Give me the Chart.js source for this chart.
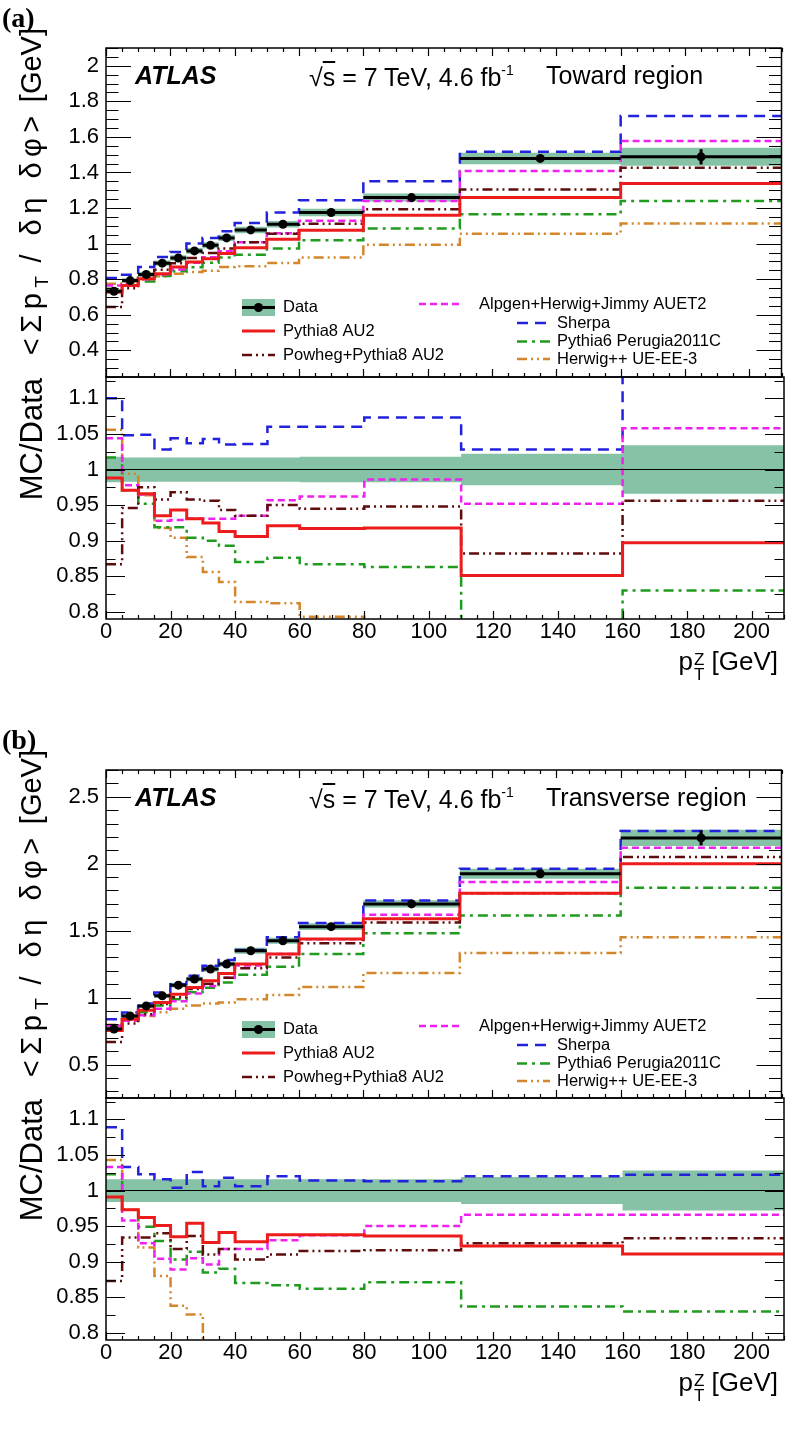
<!DOCTYPE html>
<html>
<head>
<meta charset="utf-8">
<title>Sum pT density vs pT(Z)</title>
<script src="https://cdn.jsdelivr.net/npm/chart.js@4.4.1/dist/chart.umd.min.js"></script>
<style>
  body { margin: 0; background: #fff; }
  #page { position: relative; width: 786px; height: 1430px; overflow: hidden; font-family: "Liberation Sans", Arial, sans-serif; color: #000; }
  #page canvas { position: absolute; left: 0; }
  .txt { position: absolute; white-space: nowrap; line-height: 1; }
  .tag { font-family: "Liberation Serif", serif; font-weight: bold; font-size: 28px; }
  .atlas { font-weight: bold; font-style: italic; font-size: 25px; }
  .info { font-size: 25px; }
  .info sup { font-size: 14px; vertical-align: 11px; }
  .ytitle { font-size: 29px; height: 30px; transform-origin: 0 0; transform: rotate(-90deg); text-align: right; }
  .ytitle .gr { letter-spacing: 5.5px; }
  .ytitle sub { font-size: 19px; vertical-align: -7px; letter-spacing: 0; }
  .ytitle.r { font-size: 31px; height: 32px; }
  .xtitle { font-size: 26px; text-align: right; width: 200px; }
  .ss { display: inline-block; font-size: 17px; line-height: 15px; vertical-align: -10px; text-align: left; margin-left: 1px; }
</style>
</head>
<body>
<div id="page">
  <canvas id="towardMain" width="786" height="401" style="top:0px"></canvas>
  <canvas id="towardRatio" width="786" height="321" style="top:353px"></canvas>
  <canvas id="transMain" width="786" height="402" style="top:720px"></canvas>
  <canvas id="transRatio" width="786" height="321" style="top:1074px"></canvas>

  <div class="txt tag" style="left:2px; top:4px">(a)</div>
  <div class="txt atlas" style="left:135px; top:63px">ATLAS</div>
  <div class="txt info" style="left:309px; top:63px">√<span style="text-decoration:overline">s</span> = 7 TeV, 4.6 fb<sup>-1</sup></div>
  <div class="txt info" style="left:546px; top:63px">Toward region</div>
  <div class="txt ytitle" style="left:17px; top:360px; width:332px"><span class="gr">&lt;Σp<sub>T</sub> / δη δφ&gt;</span> [GeV]</div>
  <div class="txt ytitle r" style="left:16px; top:529px; width:151px">MC/Data</div>
  <div class="txt xtitle" style="left:578px; top:648px">p<span class="ss">Z<br>T</span> [GeV]</div>

  <div class="txt tag" style="left:2px; top:726px">(b)</div>
  <div class="txt atlas" style="left:135px; top:785px">ATLAS</div>
  <div class="txt info" style="left:309px; top:785px">√<span style="text-decoration:overline">s</span> = 7 TeV, 4.6 fb<sup>-1</sup></div>
  <div class="txt info" style="left:546px; top:785px">Transverse region</div>
  <div class="txt ytitle" style="left:17px; top:1082px; width:332px"><span class="gr">&lt;Σp<sub>T</sub> / δη δφ&gt;</span> [GeV]</div>
  <div class="txt ytitle r" style="left:16px; top:1250px; width:151px">MC/Data</div>
  <div class="txt xtitle" style="left:578px; top:1369px">p<span class="ss">Z<br>T</span> [GeV]</div>
</div>

<script>
// bin edges in pT(Z) [GeV]
const edges = [0, 5, 10, 15, 20, 25, 30, 35, 40, 50, 60, 80, 110, 160, 210];

// tick labels
const xTickValues = [0, 20, 40, 60, 80, 100, 120, 140, 160, 180, 200];
const towardTicks = [0.4, 0.6, 0.8, 1, 1.2, 1.4, 1.6, 1.8, 2];
const transTicks = [0.5, 1, 1.5, 2, 2.5];
const ratioTicks = [0.8, 0.85, 0.9, 0.95, 1, 1.05, 1.1];

// axis ranges
const xRange = [0, 210];
const towardRange = [0.25, 2.1];
const transRange = [0.25, 2.7];
const ratioRange = [0.79, 1.13];

// ---- (a) toward region ----
const towardData = [0.732, 0.792, 0.827, 0.890, 0.919, 0.959, 0.991, 1.032, 1.077, 1.109, 1.175, 1.259, 1.479, 1.488];
const towardStat = [0.004, 0.004, 0.004, 0.005, 0.005, 0.006, 0.006, 0.007, 0.007, 0.008, 0.009, 0.010, 0.020, 0.043];
const towardSys = [0.018, 0.017, 0.017, 0.017, 0.017, 0.017, 0.017, 0.017, 0.017, 0.017, 0.018, 0.018, 0.022, 0.034];

const towardPythia8 = [0.728, 0.765, 0.803, 0.831, 0.869, 0.897, 0.915, 0.944, 0.977, 1.024, 1.075, 1.160, 1.259, 1.338];
const towardPowheg = [0.643, 0.749, 0.808, 0.853, 0.890, 0.919, 0.947, 0.973, 1.008, 1.055, 1.112, 1.193, 1.304, 1.426];
const towardAlpgen = [0.765, 0.775, 0.800, 0.826, 0.854, 0.893, 0.923, 0.957, 1.008, 1.058, 1.129, 1.240, 1.408, 1.577];
const towardSherpa = [0.807, 0.825, 0.869, 0.925, 0.953, 1.000, 1.032, 1.069, 1.116, 1.175, 1.244, 1.351, 1.516, 1.717];
const towardPythia6 = [0.746, 0.769, 0.787, 0.818, 0.845, 0.867, 0.892, 0.922, 0.938, 0.972, 1.019, 1.085, 1.165, 1.240];
const towardHerwig = [0.774, 0.787, 0.797, 0.817, 0.831, 0.841, 0.848, 0.869, 0.873, 0.891, 0.922, 0.994, 1.056, 1.113];

const towardRatioPythia8 = [0.988, 0.971, 0.966, 0.935, 0.943, 0.931, 0.925, 0.913, 0.906, 0.921, 0.917, 0.918, 0.851, 0.897];
const towardRatioPowheg = [0.867, 0.946, 0.975, 0.958, 0.968, 0.958, 0.956, 0.943, 0.935, 0.950, 0.945, 0.948, 0.882, 0.956];
const towardRatioAlpgen = [1.044, 0.978, 0.965, 0.928, 0.929, 0.931, 0.931, 0.931, 0.935, 0.957, 0.962, 0.986, 0.952, 1.058];
const towardRatioSherpa = [1.100, 1.048, 1.049, 1.028, 1.044, 1.037, 1.043, 1.035, 1.036, 1.060, 1.060, 1.073, 1.028, 1.154];
const towardRatioPythia6 = [1.017, 0.971, 0.952, 0.919, 0.919, 0.904, 0.900, 0.893, 0.870, 0.876, 0.867, 0.863, 0.788, 0.830];
const towardRatioHerwig = [1.056, 0.994, 0.964, 0.918, 0.904, 0.877, 0.856, 0.842, 0.814, 0.812, 0.793, 0.785, 0.714, 0.748];

// ---- (b) transverse region ----
const transData = [0.765, 0.863, 0.938, 1.013, 1.093, 1.138, 1.213, 1.250, 1.350, 1.425, 1.530, 1.700, 1.925, 2.193];
const transStat = [0.004, 0.004, 0.005, 0.005, 0.006, 0.006, 0.007, 0.008, 0.008, 0.009, 0.010, 0.012, 0.020, 0.056];
const transSys = [0.016, 0.016, 0.016, 0.016, 0.016, 0.016, 0.016, 0.016, 0.016, 0.016, 0.016, 0.016, 0.019, 0.028];

const transPythia8 = [0.755, 0.838, 0.905, 0.963, 1.025, 1.075, 1.125, 1.180, 1.250, 1.325, 1.438, 1.588, 1.780, 2.000];
const transPowheg = [0.668, 0.806, 0.876, 0.952, 1.003, 1.065, 1.104, 1.148, 1.219, 1.300, 1.405, 1.560, 1.780, 2.050];
const transAlpgen = [0.790, 0.827, 0.869, 0.916, 0.972, 1.030, 1.087, 1.148, 1.239, 1.325, 1.436, 1.618, 1.863, 2.120];
const transSherpa = [0.838, 0.888, 0.955, 1.038, 1.100, 1.163, 1.238, 1.280, 1.355, 1.450, 1.558, 1.725, 1.963, 2.245];
const transPythia6 = [0.783, 0.840, 0.890, 0.941, 0.987, 1.040, 1.074, 1.113, 1.170, 1.230, 1.325, 1.480, 1.613, 1.820];
const transHerwig = [0.798, 0.840, 0.863, 0.891, 0.916, 0.940, 0.955, 0.963, 0.988, 1.020, 1.080, 1.183, 1.333, 1.450];

const transRatioPythia8 = [0.991, 0.973, 0.962, 0.951, 0.935, 0.954, 0.927, 0.941, 0.928, 0.938, 0.938, 0.936, 0.922, 0.911];
const transRatioPowheg = [0.873, 0.934, 0.934, 0.940, 0.918, 0.936, 0.910, 0.918, 0.903, 0.910, 0.915, 0.916, 0.926, 0.933];
const transRatioAlpgen = [1.033, 0.958, 0.926, 0.904, 0.889, 0.905, 0.896, 0.918, 0.918, 0.930, 0.937, 0.950, 0.966, 0.966];
const transRatioSherpa = [1.089, 1.033, 1.023, 1.016, 1.004, 1.026, 1.006, 1.018, 1.006, 1.020, 1.014, 1.013, 1.020, 1.022];
const transRatioPythia6 = [1.023, 0.973, 0.949, 0.929, 0.903, 0.914, 0.885, 0.890, 0.870, 0.867, 0.862, 0.871, 0.837, 0.830];
const transRatioHerwig = [1.043, 0.973, 0.920, 0.880, 0.838, 0.826, 0.787, 0.770, 0.732, 0.716, 0.706, 0.696, 0.693, 0.661];

const bandColor = '#86c2a5';
const FONT = '"Liberation Sans", Arial, sans-serif';

// MC generators, in legend order
const models = [
  { key: 'p8', label: 'Pythia8 AU2', color: '#ec1c1c', dash: [], width: 3 },
  { key: 'pow', label: 'Powheg+Pythia8 AU2', color: '#5e0c0c', dash: [10, 4, 2, 4, 2, 4], width: 2.5 },
  { key: 'alp', label: 'Alpgen+Herwig+Jimmy AUET2', color: '#ee22ee', dash: [7, 4], width: 2.5 },
  { key: 'she', label: 'Sherpa', color: '#2222dd', dash: [11, 7], width: 2.5 },
  { key: 'p6', label: 'Pythia6 Perugia2011C', color: '#1f9c1f', dash: [10, 5, 3, 5], width: 2.5 },
  { key: 'hw', label: 'Herwig++ UE-EE-3', color: '#d4862c', dash: [10, 4, 2, 4, 2, 4], width: 2.5 }
];

const towardMC = { p8: towardPythia8, pow: towardPowheg, alp: towardAlpgen, she: towardSherpa, p6: towardPythia6, hw: towardHerwig };
const towardRatioMC = { p8: towardRatioPythia8, pow: towardRatioPowheg, alp: towardRatioAlpgen, she: towardRatioSherpa, p6: towardRatioPythia6, hw: towardRatioHerwig };
const transMC = { p8: transPythia8, pow: transPowheg, alp: transAlpgen, she: transSherpa, p6: transPythia6, hw: transHerwig };
const transRatioMC = { p8: transRatioPythia8, pow: transRatioPowheg, alp: transRatioAlpgen, she: transRatioSherpa, p6: transRatioPythia6, hw: transRatioHerwig };

// legend slots (pixels: x on canvas, dy below top of plot area)
const legendSlots = [
  { key: 'data', label: 'Data', x0: 242, x1: 275, tx: 283, dy: 259.5 },
  { key: 'p8', x0: 242, x1: 275, tx: 283, dy: 283 },
  { key: 'pow', x0: 242, x1: 275, tx: 283, dy: 307 },
  { key: 'alp', x0: 419, x1: 463, tx: 479, dy: 256 },
  { key: 'she', x0: 517, x1: 550, tx: 557, dy: 275 },
  { key: 'p6', x0: 517, x1: 550, tx: 557, dy: 293.5 },
  { key: 'hw', x0: 517, x1: 550, tx: 557, dy: 311 }
];

// histogram outline: a point at every low edge plus the last high edge
function histPoints(vals) {
  const pts = vals.map((v, i) => ({ x: edges[i], y: v }));
  pts.push({ x: edges[edges.length - 1], y: vals[vals.length - 1] });
  return pts;
}

// data: one horizontal bar per bin, no risers
function binSegments(vals) {
  const pts = [];
  vals.forEach((v, i) => {
    pts.push({ x: edges[i], y: v }, { x: edges[i + 1], y: v }, { x: edges[i + 1], y: null });
  });
  return pts;
}

function mcDatasets(mc) {
  return models.map((m, k) => ({
    data: histPoints(mc[m.key]),
    borderColor: m.color,
    borderDash: m.dash,
    borderWidth: m.width,
    stepped: true,
    pointRadius: 0,
    clip: 0,
    order: 2 + k
  }));
}

function bandDatasets(lo, hi) {
  return [
    { data: histPoints(hi), borderWidth: 0, pointRadius: 0, stepped: true, clip: 0, order: 20 },
    { data: histPoints(lo), borderWidth: 0, pointRadius: 0, stepped: true, clip: 0, order: 20,
      fill: '-1', backgroundColor: bandColor }
  ];
}

function mainDatasets(vals, stat, sys, mc) {
  const hi = vals.map((v, i) => v * (1 + sys[i]));
  const lo = vals.map((v, i) => v * (1 - sys[i]));
  return [
    { data: binSegments(vals), borderColor: '#000', borderWidth: 3, pointRadius: 0, spanGaps: false, clip: 0, order: 0 },
    { data: vals.map((v, i) => ({ x: (edges[i] + edges[i + 1]) / 2, y: v })), showLine: false,
      pointRadius: 4.5, pointBackgroundColor: '#000', pointBorderWidth: 0, errBars: stat, order: 0 },
    ...mcDatasets(mc),
    ...bandDatasets(lo, hi)
  ];
}

function ratioDatasets(sys, mc) {
  return [
    { data: [{ x: xRange[0], y: 1 }, { x: xRange[1], y: 1 }], borderColor: '#000', borderWidth: 1,
      pointRadius: 0, clip: 0, order: 1 },
    ...mcDatasets(mc),
    ...bandDatasets(sys.map(s => 1 - s), sys.map(s => 1 + s))
  ];
}

// ROOT style frame with inward ticks on all sides
const rootFrame = {
  id: 'rootFrame',
  afterDraw(chart, args, o) {
    const { ctx, chartArea: a, scales: { x, y } } = chart;
    ctx.save();
    ctx.strokeStyle = '#000';
    ctx.setLineDash([]);
    ctx.lineWidth = 1.2;
    ctx.beginPath();
    const per = Math.round(o.yMajor / o.yMinor);
    for (let k = Math.ceil(y.min / o.yMinor - 1e-6); k * o.yMinor <= y.max + 1e-9; k++) {
      const py = Math.round(y.getPixelForValue(k * o.yMinor)) + 0.5;
      const len = (k % per === 0) ? o.yLen : o.yLen / 2;
      ctx.moveTo(a.left, py); ctx.lineTo(a.left + len, py);
      ctx.moveTo(a.right, py); ctx.lineTo(a.right - len, py);
    }
    for (let k = 0; k * 5 <= x.max; k++) {
      const px = Math.round(x.getPixelForValue(k * 5)) + 0.5;
      const len = (k % 4 === 0) ? 8 : 4;
      if (o.xTop) { ctx.moveTo(px, a.top); ctx.lineTo(px, a.top + len); }
      if (o.xBottom) { ctx.moveTo(px, a.bottom); ctx.lineTo(px, a.bottom - len); }
    }
    ctx.stroke();
    ctx.lineWidth = 1.5;
    ctx.strokeRect(a.left, a.top, a.right - a.left, a.bottom - a.top);
    ctx.restore();
  }
};

// vertical stat error bars on the data points
const errorBars = {
  id: 'errorBars',
  afterDatasetsDraw(chart) {
    const { ctx, scales: { x, y } } = chart;
    chart.data.datasets.forEach(ds => {
      if (!ds.errBars) return;
      ctx.save();
      ctx.strokeStyle = '#000';
      ctx.lineWidth = 3;
      ds.data.forEach((p, i) => {
        const px = x.getPixelForValue(p.x);
        ctx.beginPath();
        ctx.moveTo(px, y.getPixelForValue(p.y - ds.errBars[i]));
        ctx.lineTo(px, y.getPixelForValue(p.y + ds.errBars[i]));
        ctx.stroke();
      });
      ctx.restore();
    });
  }
};

// two column legend like the ROOT TLegend
const rootLegend = {
  id: 'rootLegend',
  afterDraw(chart, args, o) {
    if (!o.show) return;
    const { ctx, chartArea: a } = chart;
    ctx.save();
    ctx.font = '16.5px ' + FONT;
    ctx.textBaseline = 'middle';
    legendSlots.forEach(s => {
      const y = a.top + s.dy;
      const m = models.find(mm => mm.key === s.key);
      if (s.key === 'data') {
        ctx.fillStyle = bandColor;
        ctx.fillRect(s.x0, y - 8.5, s.x1 - s.x0, 17);
        ctx.strokeStyle = '#000';
        ctx.lineWidth = 3;
        ctx.setLineDash([]);
        ctx.beginPath(); ctx.moveTo(s.x0, y); ctx.lineTo(s.x1, y); ctx.stroke();
        ctx.fillStyle = '#000';
        ctx.beginPath(); ctx.arc((s.x0 + s.x1) / 2, y, 4.5, 0, 2 * Math.PI); ctx.fill();
      } else {
        ctx.strokeStyle = m.color;
        ctx.lineWidth = m.width;
        ctx.setLineDash(m.dash);
        ctx.beginPath(); ctx.moveTo(s.x0, y); ctx.lineTo(s.x1, y); ctx.stroke();
      }
      ctx.fillStyle = '#000';
      ctx.fillText(s.label || m.label, s.tx, y);
    });
    ctx.restore();
  }
};

Chart.defaults.font.family = FONT;
Chart.defaults.color = '#000';

function makeChart(id, cfg) {
  const tickFont = { size: 22, family: FONT };
  return new Chart(document.getElementById(id), {
    type: 'line',
    data: { datasets: cfg.datasets },
    options: {
      responsive: false,
      animation: false,
      events: [],
      layout: { padding: cfg.padding },
      scales: {
        x: {
          type: 'linear', min: xRange[0], max: xRange[1], bounds: 'data',
          display: cfg.showX,
          afterBuildTicks: s => { s.ticks = xTickValues.map(v => ({ value: v })); },
          afterFit: s => { if (cfg.showX) s.height = 55; },
          ticks: { autoSkip: false, maxRotation: 0, font: tickFont, color: '#000', padding: 0,
                   callback: v => String(v) },
          grid: { display: false, drawTicks: false },
          border: { display: false }
        },
        y: {
          type: 'linear', min: cfg.range[0], max: cfg.range[1], bounds: 'data',
          afterBuildTicks: s => { s.ticks = cfg.ticks.map(v => ({ value: v })); },
          afterFit: s => { s.width = 106; },
          ticks: { autoSkip: false, font: tickFont, color: '#000', padding: 7,
                   callback: v => String(v) },
          grid: { display: false, drawTicks: false },
          border: { display: false }
        }
      },
      plugins: {
        legend: { display: false },
        tooltip: { enabled: false },
        rootFrame: cfg.frame,
        rootLegend: { show: !!cfg.legend }
      }
    },
    plugins: [rootFrame, errorBars, rootLegend]
  });
}

makeChart('towardMain', {
  datasets: mainDatasets(towardData, towardStat, towardSys, towardMC),
  range: towardRange, ticks: towardTicks, showX: false, legend: true,
  padding: { top: 48, bottom: 24, left: 0, right: 2 },
  frame: { yMajor: 0.2, yMinor: 0.05, yLen: 25, xTop: true, xBottom: true }
});

makeChart('towardRatio', {
  datasets: ratioDatasets(towardSys, towardRatioMC),
  range: ratioRange, ticks: ratioTicks, showX: true,
  padding: { top: 24, bottom: 0, left: 0, right: 2 },
  frame: { yMajor: 0.05, yMinor: 0.025, yLen: 19, xTop: false, xBottom: true }
});

makeChart('transMain', {
  datasets: mainDatasets(transData, transStat, transSys, transMC),
  range: transRange, ticks: transTicks, showX: false, legend: true,
  padding: { top: 50, bottom: 24, left: 0, right: 2 },
  frame: { yMajor: 0.5, yMinor: 0.1, yLen: 25, xTop: true, xBottom: true }
});

makeChart('transRatio', {
  datasets: ratioDatasets(transSys, transRatioMC),
  range: ratioRange, ticks: ratioTicks, showX: true,
  padding: { top: 24, bottom: 0, left: 0, right: 2 },
  frame: { yMajor: 0.05, yMinor: 0.025, yLen: 19, xTop: false, xBottom: true }
});
</script>
</body>
</html>
